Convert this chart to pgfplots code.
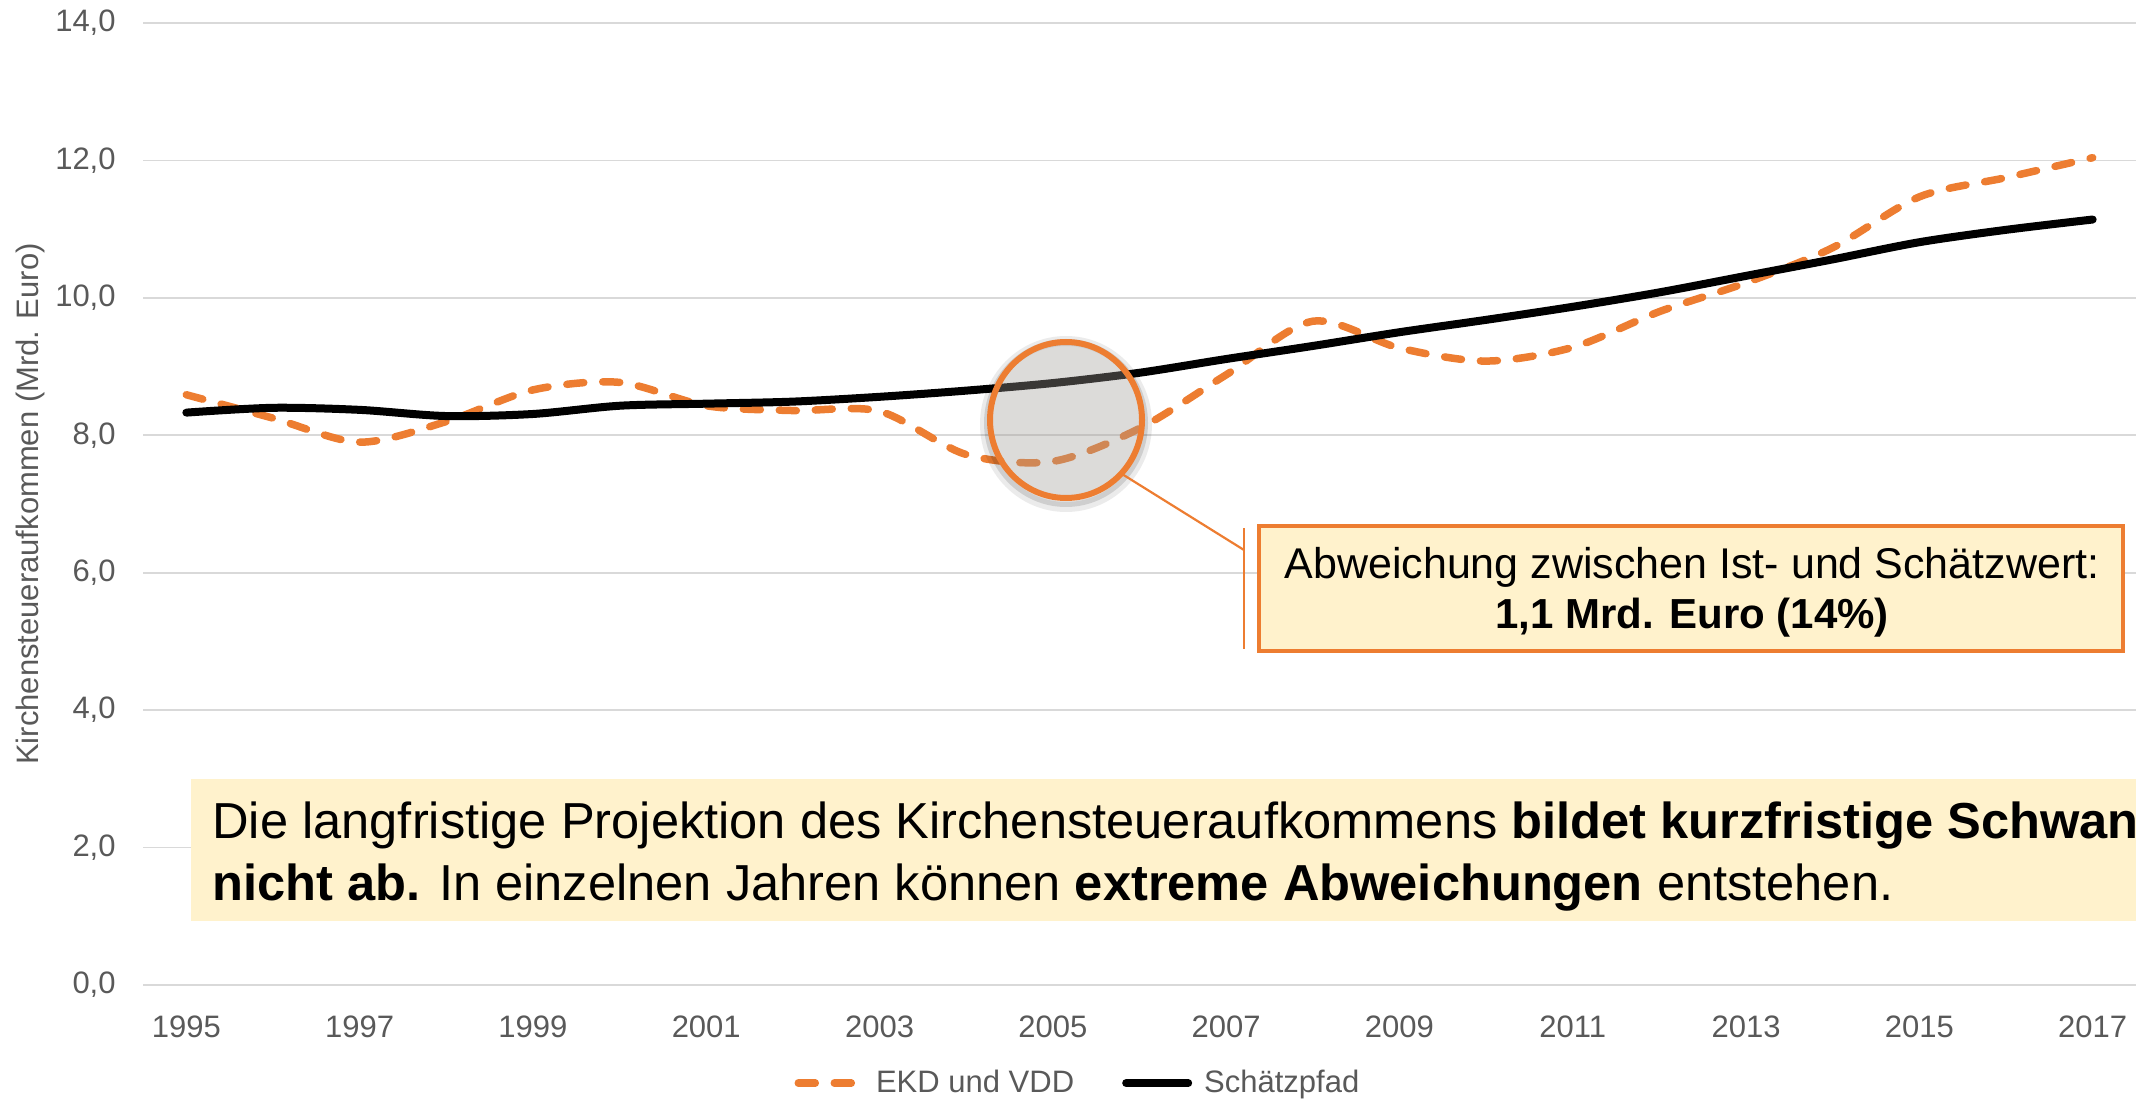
\documentclass[border=0pt]{standalone}
\usepackage{pgfplots}
\pgfplotsset{compat=1.18}
\usepackage{fontspec}
\setmainfont{Liberation Sans}
\definecolor{orng}{HTML}{ED7D31}
\definecolor{gridc}{HTML}{D9D9D9}
\definecolor{tickc}{HTML}{595959}
\definecolor{boxy}{HTML}{FFF2CC}
\definecolor{circc}{HTML}{9F9A95}
\newcommand{\tfont}{\fontsize{15.5}{18}\selectfont}
\begin{document}
\begin{tikzpicture}
\begin{axis}[
  at={(71.5pt,57.5pt)}, anchor=south west,
  scale only axis, width=996.5pt, height=481pt,
  xmin=1994.5, xmax=2017.5, ymin=0, ymax=14,
  xtick={1995,1997,...,2017},
  ytick={0,2,...,14},
  axis line style={draw=none},
  major tick length=0pt,
  ymajorgrids, grid style={draw=gridc, line width=0.9pt},
  /pgf/number format/assume math mode=true,
  tick label style={font=\tfont, text=tickc, inner sep=0pt},
  x tick label style={/pgf/number format/1000 sep={}, yshift=-15pt},
  y tick label style={/pgf/number format/fixed, /pgf/number format/fixed zerofill, /pgf/number format/precision=1, /pgf/number format/use comma, xshift=-13.5pt},
  legend style={at={(axis description cs:0.4686,-0.102)}, anchor=center, draw=none, fill=none, font=\tfont, text=tickc, legend columns=2, nodes={inner sep=0pt}, /tikz/every odd column/.append style={column sep=6pt}, /tikz/every even column/.append style={column sep=24pt}},
  legend image code/.code={\draw[#1] (0pt,0pt) -- (31pt,0pt);},
]
\addplot[orng, line width=3.75pt, line cap=round, dash pattern=on 8.5pt off 9.5pt, smooth, tension=0.5] coordinates {
(1995,8.59) (1996,8.25) (1997,7.90) (1998,8.20) (1999,8.66) (2000,8.77) (2001,8.43) (2002,8.36) (2003,8.35) (2004,7.72) (2005,7.62) (2006,8.10) (2007,8.88) (2008,9.66) (2009,9.27) (2010,9.08) (2011,9.28) (2012,9.80) (2013,10.22) (2014,10.73) (2015,11.47) (2016,11.75) (2017,12.04)};
\addlegendentry{EKD und VDD}
\addplot[black, line width=4pt, line cap=round, smooth, tension=0.5] coordinates {
(1995,8.33) (1996,8.40) (1997,8.37) (1998,8.28) (1999,8.31) (2000,8.43) (2001,8.46) (2002,8.49) (2003,8.56) (2004,8.65) (2005,8.76) (2006,8.91) (2007,9.11) (2008,9.30) (2009,9.50) (2010,9.68) (2011,9.87) (2012,10.08) (2013,10.32) (2014,10.56) (2015,10.81) (2016,10.99) (2017,11.14)};
\addlegendentry{Schätzpfad}
\end{axis}
\node[rotate=90, font=\tfont, text=tickc] at (15pt,298pt) {Kirchensteueraufkommen (Mrd. Euro)};
% highlight circle with soft shadow
\draw[black, opacity=0.08, line width=5pt] (533pt,338pt) ellipse (40.5pt and 41.5pt);
\draw[black, opacity=0.12, line width=3pt] (533pt,338.5pt) ellipse (39.5pt and 40.5pt);
\fill[circc, fill opacity=0.36] (533pt,340pt) ellipse (38pt and 39pt);
\draw[orng, line width=3pt] (533pt,340pt) ellipse (38pt and 39pt);
% callout
\draw[orng, line width=1.1pt] (561pt,313pt) -- (622pt,275pt);
\draw[orng, line width=1.1pt] (622pt,286pt) -- (622pt,225.5pt);
\draw[orng, line width=1.75pt, fill=boxy] (629.5pt,224.5pt) rectangle (1061.5pt,287pt);
\node[anchor=base, inner sep=0pt, font=\fontsize{21.5}{25}\selectfont] at (846pt,260.75pt) {Abweichung zwischen Ist- und Schätzwert:};
\node[anchor=base, inner sep=0pt, font=\fontsize{21}{25}\selectfont\bfseries] at (846pt,236pt) {1,1 Mrd. Euro (14\%)};
% big text box
\fill[boxy] (95.5pt,89.5pt) rectangle (1150pt,160.5pt);
\node[anchor=base west, inner sep=0pt, font=\fontsize{25.3}{31}\selectfont] at (106pt,131pt) {Die langfristige Projektion des Kirchensteueraufkommens \textbf{bildet kurzfristige Schwankungen}};
\node[anchor=base west, inner sep=0pt, font=\fontsize{25.3}{31}\selectfont] at (106pt,100pt) {\textbf{nicht ab.} In einzelnen Jahren können \textbf{extreme Abweichungen} entstehen.};
\pgfresetboundingbox
\path[use as bounding box] (0pt,0pt) rectangle (1068pt,550pt);
\end{tikzpicture}
\end{document}
